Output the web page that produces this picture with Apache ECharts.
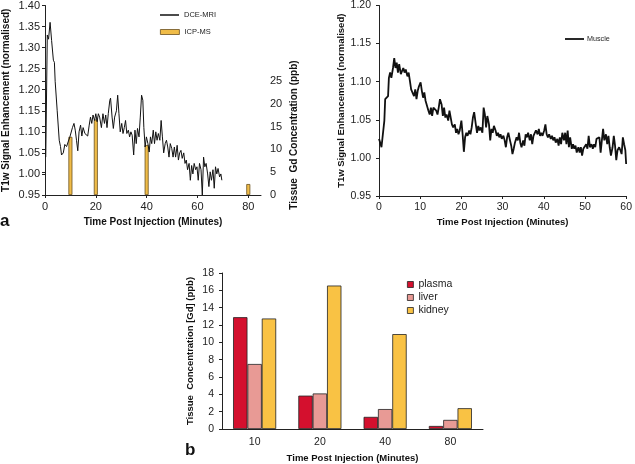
<!DOCTYPE html>
<html>
<head>
<meta charset="utf-8">
<script src="https://cdn.jsdelivr.net/npm/echarts@6/dist/echarts.min.js"></script>
<style>
html,body{margin:0;padding:0;background:#fff;}
#c{width:635px;height:464px;}
</style>
</head>
<body>
<div id="c"></div>
<script>
// ---- Panel a (left): DCE-MRI signal [minutes, enhancement]
const dcePoints = [[0.3,1.04],[0.9,1.33],[1.4,1.32],[2.0,1.36],[2.6,1.317],[3.3,1.27],[3.7,1.265],[4.0,1.22],[4.8,1.15],[5.6,1.08],[6.1,1.065],[6.5,1.045],[7.2,1.05],[7.8,1.07],[8.5,1.065],[9.1,1.076],[9.8,1.088],[10.4,1.09],[10.8,1.11],[11.4,1.12],[11.9,1.104],[12.4,1.08],[12.9,1.055],[13.4,1.10],[14.0,1.116],[14.5,1.09],[15.0,1.11],[15.7,1.096],[16.3,1.10],[16.8,1.09],[17.4,1.116],[17.9,1.135],[18.4,1.12],[18.9,1.14],[19.5,1.127],[20.0,1.143],[20.5,1.124],[21.0,1.143],[21.5,1.135],[22.2,1.11],[22.8,1.143],[23.4,1.12],[23.9,1.14],[24.4,1.11],[24.9,1.143],[25.5,1.175],[25.8,1.18],[26.4,1.135],[26.9,1.108],[27.4,1.135],[28.1,1.15],[28.6,1.187],[29.1,1.143],[29.6,1.10],[30.2,1.12],[30.7,1.096],[31.2,1.11],[31.7,1.127],[32.2,1.096],[32.8,1.104],[33.3,1.088],[33.8,1.10],[34.3,1.092],[34.9,1.045],[35.4,1.104],[35.9,1.072],[36.4,1.108],[37.0,1.088],[37.5,1.135],[38.0,1.187],[38.5,1.175],[38.9,1.11],[39.4,1.064],[39.9,1.088],[40.5,1.072],[41.0,1.052],[41.5,1.088],[42.0,1.072],[42.6,1.104],[43.1,1.072],[43.6,1.10],[44.1,1.08],[44.6,1.096],[45.2,1.08],[45.7,1.127],[46.2,1.088],[46.7,1.05],[47.3,1.072],[47.8,1.08],[48.3,1.064],[48.8,1.04],[49.3,1.072],[49.9,1.06],[50.4,1.04],[50.9,1.064],[51.4,1.04],[52.0,1.068],[52.5,1.033],[53.0,1.05],[53.5,1.056],[54.0,1.037],[54.6,1.05],[55.1,1.025],[55.6,1.033],[56.1,1.01],[56.7,1.025],[57.2,0.985],[57.7,1.02],[58.2,1.0],[58.7,1.025],[59.3,1.01],[59.8,1.017],[60.3,0.985],[60.8,1.025],[61.4,1.01],[61.9,0.95],[62.4,1.04],[62.9,1.017],[63.4,1.025],[64.0,1.0],[64.5,0.97],[65.0,1.005],[65.5,0.985],[66.1,1.01],[66.6,0.966],[67.1,1.017],[67.6,1.0],[68.1,1.013],[68.7,0.993],[69.2,1.0],[69.6,0.985]];
// ---- Panel a (left): ICP-MS tissue Gd (ppb)
const icpTimes = [10, 20, 40, 80];
const icpValues = [12.75, 16.55, 10.95, 2.4];
// x tick labels of panel a (left)
const leftXTicks = [0, 20, 40, 60, 80];
// ---- Panel a (right): Muscle signal [minutes, enhancement]
const musclePoints = [[0,1.025],[0.3,1.02],[0.6,1.014],[1.0,1.016],[1.3,1.049],[1.5,1.077],[1.8,1.075],[2.2,1.081],[2.4,1.105],[2.7,1.112],[3.0,1.105],[3.4,1.118],[3.7,1.131],[4.0,1.118],[4.3,1.125],[4.6,1.112],[4.9,1.123],[5.3,1.11],[5.6,1.114],[5.9,1.118],[6.2,1.112],[6.5,1.116],[6.9,1.107],[7.2,1.112],[7.5,1.101],[7.8,1.09],[8.1,1.092],[8.5,1.081],[8.8,1.09],[9.1,1.077],[9.4,1.088],[9.7,1.094],[10.1,1.099],[10.4,1.088],[10.7,1.079],[11.0,1.086],[11.3,1.075],[11.7,1.077],[12.0,1.062],[12.3,1.057],[12.6,1.066],[12.9,1.055],[13.2,1.066],[13.6,1.068],[13.9,1.062],[14.2,1.057],[14.5,1.066],[14.8,1.077],[15.2,1.07],[15.5,1.055],[15.8,1.066],[16.1,1.053],[16.4,1.057],[16.8,1.049],[17.1,1.062],[17.4,1.064],[17.7,1.044],[18.0,1.04],[18.4,1.044],[18.7,1.033],[19.0,1.038],[19.3,1.031],[19.6,1.036],[20.0,1.049],[20.3,1.031],[20.6,1.008],[20.9,1.027],[21.2,1.033],[21.5,1.029],[21.9,1.036],[22.2,1.031],[22.5,1.04],[22.8,1.053],[23.1,1.06],[23.5,1.044],[23.8,1.033],[24.1,1.042],[24.4,1.036],[24.7,1.04],[25.1,1.033],[25.4,1.066],[25.7,1.057],[26.0,1.04],[26.3,1.055],[26.7,1.044],[27.0,1.023],[27.3,1.038],[27.6,1.033],[27.9,1.042],[28.3,1.036],[28.6,1.029],[28.9,1.033],[29.2,1.027],[29.5,1.031],[29.8,1.025],[30.2,1.029],[30.5,1.023],[30.8,1.014],[31.1,1.027],[31.4,1.033],[31.8,1.023],[32.1,1.016],[32.4,1.005],[32.7,1.012],[33.0,1.02],[33.4,1.027],[33.7,1.023],[34.0,1.033],[34.3,1.02],[34.6,1.014],[35.0,1.023],[35.3,1.016],[35.6,1.031],[35.9,1.027],[36.2,1.033],[36.6,1.023],[36.9,1.031],[37.2,1.018],[37.5,1.029],[37.8,1.027],[38.1,1.036],[38.5,1.031],[38.8,1.038],[39.1,1.029],[39.4,1.033],[39.7,1.029],[40.1,1.036],[40.4,1.044],[40.7,1.031],[41.0,1.027],[41.3,1.031],[41.7,1.025],[42.0,1.029],[42.3,1.023],[42.6,1.027],[42.9,1.02],[43.3,1.025],[43.6,1.016],[43.9,1.027],[44.2,1.018],[44.5,1.033],[44.9,1.023],[45.2,1.033],[45.5,1.018],[45.8,1.036],[46.1,1.014],[46.4,1.027],[46.8,1.012],[47.1,1.018],[47.4,1.012],[47.7,1.016],[48.0,1.007],[48.4,1.014],[48.7,1.007],[49.0,1.014],[49.3,1.003],[49.6,1.012],[50.0,1.01],[50.3,1.018],[50.6,1.012],[50.9,1.029],[51.2,1.014],[51.6,1.018],[51.9,1.012],[52.2,1.018],[52.5,1.014],[52.8,1.025],[53.2,1.023],[53.5,1.027],[53.8,1.007],[54.1,1.023],[54.4,1.038],[54.7,1.023],[55.1,1.031],[55.4,1.018],[55.7,1.029],[56.0,1.014],[56.3,1.003],[56.7,1.014],[57.0,1.029],[57.3,1.016],[57.6,0.997],[57.9,1.01],[58.3,1.014],[58.6,1.01],[58.9,1.005],[59.2,1.027],[59.5,1.018],[59.8,1.01],[60.0,0.992]];
// ---- Panel b: tissue concentration
const bCategories = ['10', '20', '40', '80'];
const plasmaValues = [12.9, 3.85, 1.4, 0.35];
const liverValues = [7.5, 4.1, 2.3, 1.05];
const kidneyValues = [12.75, 16.55, 10.95, 2.4];

const FONT = "'Liberation Sans', Arial, sans-serif";
const AX = '#222';
const lbl = (size, extra) => Object.assign({ color: '#222', fontFamily: FONT, fontSize: size }, extra || {});
const nameStyle = (size) => ({ color: '#111', fontFamily: FONT, fontSize: size, fontWeight: 'bold' });

const chart = echarts.init(document.getElementById('c'), null, { renderer: 'canvas' });

const icpData = icpTimes.map((t, i) => [t, icpValues[i]]);

chart.setOption({
  animation: false,
  backgroundColor: '#fff',
  textStyle: { fontFamily: FONT },
  title: [
    { text: 'a', left: 0, top: 213, padding: 0, textStyle: { fontFamily: FONT, fontSize: 17, fontWeight: 'bold', color: '#111' } },
    { text: 'b', left: 185, top: 442, padding: 0, textStyle: { fontFamily: FONT, fontSize: 17, fontWeight: 'bold', color: '#111' } }
  ],
  grid: [
    { left: 45, top: 5, width: 216, height: 190 },
    { left: 45, top: 75, width: 216, height: 120 },
    { left: 379, top: 4, width: 251, height: 192 },
    { left: 222, top: 273, width: 261, height: 158 }
  ],
  legend: [
    { left: 160, top: 10, padding: 0, orient: 'vertical', itemWidth: 19, itemHeight: 1.5, data: [{ name: 'DCE-MRI', icon: 'rect', itemStyle: { color: '#111', borderWidth: 0 } }], textStyle: lbl(7.5, { lineHeight: 10 }), itemGap: 0 },
    { left: 160, top: 27, padding: 0, orient: 'vertical', itemWidth: 19, itemHeight: 5, data: [{ name: 'ICP-MS', icon: 'rect', itemStyle: { color: '#f0bc48', borderColor: '#6b5020', borderWidth: 0.8 } }], textStyle: lbl(7.5, { lineHeight: 10 }), itemGap: 0 },
    { left: 565, top: 34, padding: 0, orient: 'vertical', itemWidth: 19, itemHeight: 1.8, data: [{ name: 'Muscle', icon: 'rect', itemStyle: { color: '#111', borderWidth: 0 } }], textStyle: lbl(7.2, { lineHeight: 10, padding: [0, 0, 0, -2] }), itemGap: 0 },
    { left: 407, top: 279, padding: 0, orient: 'vertical', itemWidth: 6, itemHeight: 6, itemGap: 2,
      data: [
        { name: 'plasma', icon: 'rect', itemStyle: { color: '#d4102e', borderColor: '#222', borderWidth: 0.8 } },
        { name: 'liver', icon: 'rect', itemStyle: { color: '#e89a95', borderColor: '#222', borderWidth: 0.8 } },
        { name: 'kidney', icon: 'rect', itemStyle: { color: '#f9c244', borderColor: '#222', borderWidth: 0.8 } }
      ],
      textStyle: lbl(10.5, { lineHeight: 10 }) }
  ],
  xAxis: [
    { gridIndex: 0, type: 'value', min: 0, max: 85, interval: 20,
      name: 'Time Post Injection (Minutes)', nameLocation: 'middle', nameGap: 22, nameTextStyle: nameStyle(10),
      axisLine: { lineStyle: { color: AX, width: 1 } },
      axisTick: { length: 3, customValues: leftXTicks, lineStyle: { color: AX } },
      axisLabel: lbl(11, { margin: 6, customValues: leftXTicks }), splitLine: { show: false } },
    { gridIndex: 1, type: 'value', min: 0, max: 85, show: false },
    { gridIndex: 2, type: 'value', min: 0, max: 60, interval: 10,
      name: 'Time Post Injection (Minutes)', nameLocation: 'middle', nameGap: 21, nameTextStyle: nameStyle(9.5),
      axisLine: { lineStyle: { color: AX, width: 1 } }, axisTick: { length: 3, lineStyle: { color: AX } },
      axisLabel: lbl(10.5, { margin: 6 }), splitLine: { show: false } },
    { gridIndex: 3, type: 'category', data: bCategories,
      name: 'Time Post Injection (Minutes)', nameLocation: 'middle', nameGap: 24, nameTextStyle: nameStyle(9.5),
      axisLine: { lineStyle: { color: AX, width: 1 } }, axisTick: { length: 4, lineStyle: { color: AX } },
      axisLabel: lbl(10.5, { margin: 8 }) }
  ],
  yAxis: [
    { gridIndex: 0, type: 'value', min: 0.95, max: 1.40, interval: 0.05,
      name: 'T1w Signal Enhancement (normalised)', nameLocation: 'middle', nameGap: 34, nameTextStyle: nameStyle(10),
      axisLine: { show: true, lineStyle: { color: AX, width: 1 } }, axisTick: { show: true, length: 3, lineStyle: { color: AX } },
      axisLabel: lbl(11, { margin: 5, formatter: v => v.toFixed(2) }), splitLine: { show: false } },
    { gridIndex: 1, type: 'value', position: 'right', min: 0, max: 26.3, interval: 5,
      name: 'Tissue  Gd Concentration (ppb)', nameLocation: 'middle', nameGap: 28, nameTextStyle: nameStyle(10),
      axisLine: { show: true, lineStyle: { color: AX, width: 1 } }, axisTick: { show: true, inside: true, length: 3, lineStyle: { color: AX } },
      axisLabel: lbl(11, { margin: 9 }), splitLine: { show: false } },
    { gridIndex: 2, type: 'value', min: 0.95, max: 1.20, interval: 0.05,
      name: 'T1w Signal Enhancement (normalised)', nameLocation: 'middle', nameGap: 30, nameTextStyle: nameStyle(9.5),
      axisLine: { show: true, lineStyle: { color: AX, width: 1 } }, axisTick: { show: true, length: 3, lineStyle: { color: AX } },
      axisLabel: lbl(10.5, { margin: 8, formatter: v => v.toFixed(2) }), splitLine: { show: false } },
    { gridIndex: 3, type: 'value', min: 0, max: 18, interval: 2,
      name: 'Tissue  Concentration [Gd] (ppb)', nameLocation: 'middle', nameGap: 27, nameTextStyle: nameStyle(9.5),
      axisLine: { show: true, lineStyle: { color: AX, width: 1 } }, axisTick: { show: true, length: 3, lineStyle: { color: AX } },
      axisLabel: lbl(10.5, { margin: 8 }), splitLine: { show: false } }
  ],
  series: [
    { name: 'ICP-MS', type: 'bar', xAxisIndex: 1, yAxisIndex: 1, data: icpData, barWidth: 4,
      itemStyle: { color: '#f0bc48', borderColor: '#6b5020', borderWidth: 0.8 } },
    { name: 'DCE-MRI', type: 'line', xAxisIndex: 0, yAxisIndex: 0, data: dcePoints, symbol: 'none',
      lineStyle: { color: '#111', width: 1 } },
    { name: 'Muscle', type: 'line', xAxisIndex: 2, yAxisIndex: 2, data: musclePoints, symbol: 'none',
      lineStyle: { color: '#111', width: 1.8 } },
    { name: 'plasma', type: 'bar', xAxisIndex: 3, yAxisIndex: 3, data: plasmaValues, barGap: '0%', barCategoryGap: '34%',
      itemStyle: { color: '#d4102e', borderColor: '#222', borderWidth: 0.8 } },
    { name: 'liver', type: 'bar', xAxisIndex: 3, yAxisIndex: 3, data: liverValues, barGap: '0%', barCategoryGap: '34%',
      itemStyle: { color: '#e89a95', borderColor: '#222', borderWidth: 0.8 } },
    { name: 'kidney', type: 'bar', xAxisIndex: 3, yAxisIndex: 3, data: kidneyValues, barGap: '0%', barCategoryGap: '34%',
      itemStyle: { color: '#f9c244', borderColor: '#222', borderWidth: 0.8 } }
  ]
});
</script>
</body>
</html>
